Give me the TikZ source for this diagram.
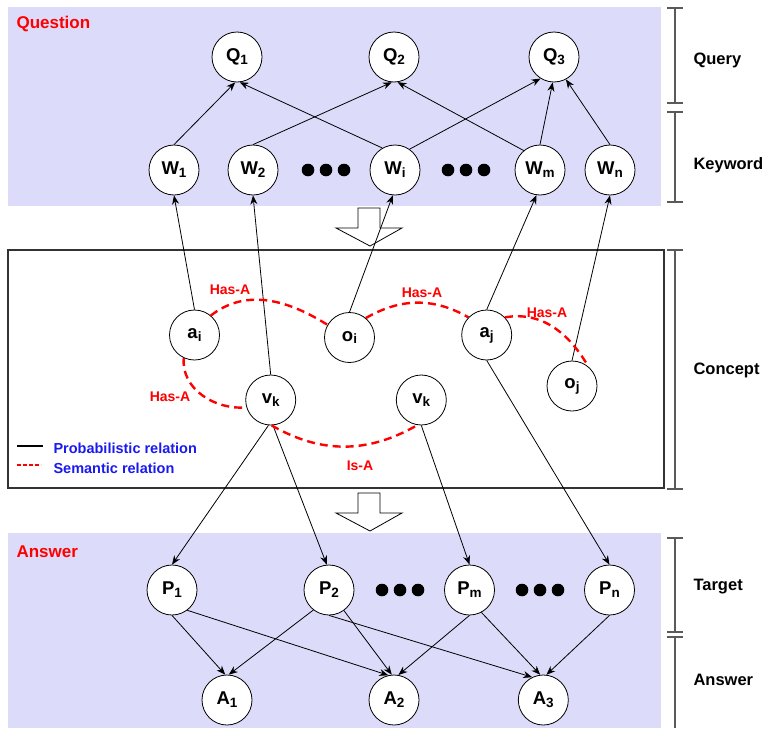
\documentclass[tikz,border=0pt]{standalone}
\usepackage{fontspec}
\setmainfont{Liberation Sans}
\usetikzlibrary{arrows.meta}
\definecolor{lavande}{RGB}{220,220,250}
\definecolor{semred}{RGB}{255,0,0}
\definecolor{legblue}{RGB}{25,25,240}
\definecolor{brkgray}{RGB}{90,90,90}
\newcommand{\sbt}[1]{\raisebox{-0.3ex}{\fontsize{13.5}{13.5}\selectfont #1}}

\begin{document}
\begin{tikzpicture}[x=1pt,y=-1pt,
  var/.style={circle,draw,line width=0.8pt,fill=white,minimum size=50pt,inner sep=0pt,
    font=\fontsize{18.5}{18.5}\selectfont\bfseries},
  prob/.style={-{Stealth[length=9pt,width=7pt]},line width=0.8pt},
  semrel/.style={draw=semred,line width=2.4pt,dash pattern=on 8pt off 5pt},
  rellab/.style={text=semred,font=\fontsize{14}{14}\selectfont\bfseries},
  sidelab/.style={anchor=west,font=\fontsize{16.5}{16.5}\selectfont\bfseries},
  title/.style={anchor=west,text=semred,font=\fontsize{17}{17}\selectfont\bfseries},
  leglab/.style={anchor=west,text=legblue,font=\fontsize{14.5}{14.5}\selectfont\bfseries},
  brk/.style={draw=brkgray,line width=1.3pt},
  blockarrow/.style={draw,fill=white,line width=0.8pt}]
\useasboundingbox (0,0) rectangle (765,728);
\clip (0,0) rectangle (765,728);
\fill[lavande] (8,7) rectangle (661,206);
\fill[lavande] (8,533) rectangle (661,728);
\draw[line width=1.2pt,black!80] (8,250) rectangle (664,488);
\foreach \a/\b in {8/103,112/202,250/489,538/632}
  \draw[brk] (667,\a) -- (683,\a) (675,\a) -- (675,\b) (667,\b) -- (683,\b);
\draw[brk] (667,637) -- (683,637) (675,637) -- (675,728);
\node[sidelab] (lquery) at (690,60) {Query};
\node[sidelab] (lkeyword) at (690,165) {Keyword};
\node[sidelab] (lconcept) at (690,370) {Concept};
\node[sidelab] (ltarget) at (690,587) {Target};
\node[sidelab] (lanswer) at (690,680) {Answer};
\node[title] (tquestion) at (13,24) {Question};
\node[title] (tanswer) at (13,552) {Answer};
\foreach \t in {208,493}
  \draw[blockarrow] (358,\t) -- (380,\t) -- (380,\t+20) -- (402,\t+20) -- (370,\t+38)
    -- (336,\t+20) -- (358,\t+20) -- cycle;
\foreach \x in {308,326,344,448,466,484} \fill (\x,170) circle (6.3);
\foreach \x in {382,400,418,522,540,558} \fill (\x,590) circle (6.3);
% query and keywords
\node[var] (Q1) at (237,57) {Q\sbt{1}};
\node[var] (Q2) at (394,57) {Q\sbt{2}};
\node[var] (Q3) at (554,57) {Q\sbt{3}};
\node[var] (W1) at (174,170) {W\sbt{1}};
\node[var] (W2) at (253,170) {W\sbt{2}};
\node[var] (Wi) at (395,170) {W\sbt{i}};
\node[var] (Wm) at (540,170) {W\sbt{m}};
\node[var] (Wn) at (610,170) {W\sbt{n}};
% concepts
\node[var] (ai) at (194.5,335) {a\sbt{i}};
\node[var] (oi) at (349.5,337.5) {o\sbt{i}};
\node[var] (aj) at (486.7,335) {a\sbt{j}};
\node[var] (oj) at (572,386) {o\sbt{j}};
\node[var] (vk) at (270.7,400) {v\sbt{k}};
\node[var] (vl) at (421.3,400) {v\sbt{k}};
% targets and answers
\node[var] (P1) at (172,590) {P\sbt{1}};
\node[var] (P2) at (329,590) {P\sbt{2}};
\node[var] (Pm) at (469.5,590) {P\sbt{m}};
\node[var] (Pn) at (609.5,590) {P\sbt{n}};
\node[var] (A1) at (227,700) {A\sbt{1}};
\node[var] (A2) at (394,700) {A\sbt{2}};
\node[var] (A3) at (543.3,700) {A\sbt{3}};
\draw[prob] (W1.north) -- (Q1.266);
\draw[prob] (Wi.120) -- (Q1.276);
\draw[prob] (W2.north) -- (Q2.265);
\draw[prob] (Wm.130) -- (Q2.278);
\draw[prob] (Wi.55) -- (Q3.238);
\draw[prob] (Wm.north) -- (Q3.267);
\draw[prob] (Wn.north) -- (Q3.298);
\draw[prob] (ai.north) -- (W1.south);
\draw[prob] (vk.north) -- (W2.south);
\draw[prob] (oi.north) -- (Wi.265);
\draw[prob] (aj.north) -- (Wm.262);
\draw[prob] (oj.north) -- (Wn.south);
\draw[prob] (vk.265) -- (P1.north);
\draw[prob] (vk.275) -- (P2.95);
\draw[prob] (vl.south) -- (Pm.north);
\draw[prob] (aj.south) -- (Pn.north);
\draw[prob] (P1.south) -- (A1.94);
\draw[prob] (P1.307) -- (A2.103);
\draw[prob] (P2.232) -- (A1.86);
\draw[prob] (P2.306) -- (A2.95);
\draw[prob] (P2.south) -- (A3.116);
\draw[prob] (Pm.south) -- (A2.80);
\draw[prob] (Pm.298) -- (A3.97);
\draw[prob] (Pn.south) -- (A3.83);
% semantic relations
\draw[semrel] (ai.50) to[out=38,in=148] (oi.150);
\draw[semrel] (oi.50) to[out=30,in=150] (aj.136);
\draw[semrel] (aj.44) to[out=10,in=120] (oj.50);
\draw[semrel] (ai.245) to[out=265,in=185] (vk.197);
\draw[semrel] (vk.272) to[out=-30,in=210] (vl.261);
\node[rellab] (r1) at (230,290) {Has-A};
\node[rellab] (r2) at (422,293) {Has-A};
\node[rellab] (r3) at (547,313) {Has-A};
\node[rellab] (r4) at (170,397) {Has-A};
\node[rellab] (r5) at (360,466) {Is-A};
% legend
\draw[line width=1.2pt] (17,446) -- (43,446);
\draw[semrel,dash pattern=on 4pt off 2pt] (17,465) -- (41,465);
\node[leglab] (lprob) at (50,448) {Probabilistic relation};
\node[leglab] (lsem) at (50,468) {Semantic relation};
\end{tikzpicture}
\end{document}
